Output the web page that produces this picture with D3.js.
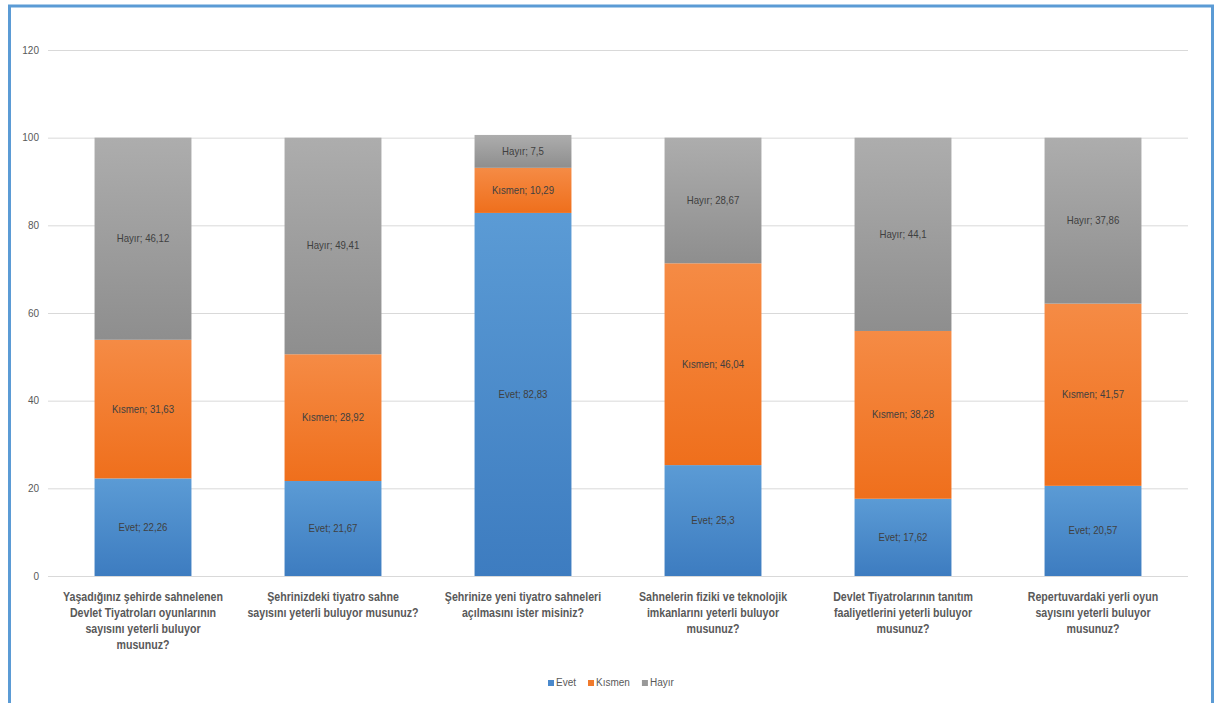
<!DOCTYPE html>
<html><head><meta charset="utf-8">
<script src="https://cdn.jsdelivr.net/npm/d3@7"></script>
<style>
html,body{margin:0;padding:0;background:#fff;overflow:hidden;}
svg{display:block;}
text{font-family:"Liberation Sans Narrow","Liberation Sans",Arial,sans-serif;}
</style></head>
<body>
<svg id="c" width="1217" height="703"></svg>
<script>
const categories = [
  ["Yaşadığınız şehirde sahnelenen","Devlet Tiyatroları oyunlarının","sayısını yeterli buluyor","musunuz?"],
  ["Şehrinizdeki tiyatro sahne","sayısını yeterli buluyor musunuz?"],
  ["Şehrinize yeni tiyatro sahneleri","açılmasını ister misiniz?"],
  ["Sahnelerin fiziki ve teknolojik","imkanlarını yeterli buluyor","musunuz?"],
  ["Devlet Tiyatrolarının tanıtım","faaliyetlerini yeterli buluyor","musunuz?"],
  ["Repertuvardaki yerli oyun","sayısını yeterli buluyor","musunuz?"]
];
const seriesNames = ["Evet","Kısmen","Hayır"];
const evet   = [22.26, 21.67, 82.83, 25.3, 17.62, 20.57];
const kismen = [31.63, 28.92, 10.29, 46.04, 38.28, 41.57];
const hayir  = [46.12, 49.41, 7.5, 28.67, 44.1, 37.86];
const yTicks = [0,20,40,60,80,100,120];

(function(){
const svg = d3.select("#c");
svg.append("rect").attr("x",9.5).attr("y",6).attr("width",1203).attr("height",720)
  .attr("fill","none").attr("stroke","#5b9bd5").attr("stroke-width",3);

const pL=48, pR=1188, pT=50, pB=576;
const x = d3.scaleBand().domain(d3.range(categories.length)).range([pL,pR]).paddingInner(0.49).paddingOuter(0.245);
const y = d3.scaleLinear().domain([0,120]).range([pB,pT]);

const defs = svg.append("defs");
const grads = [["#5b9bd5","#3d7cc0"],["#f58b45","#ef6f1c"],["#adadad","#8e8e8e"]];
grads.forEach((g,i)=>{
  const lg = defs.append("linearGradient").attr("id","g"+i).attr("x1",0).attr("y1",0).attr("x2",0).attr("y2",1);
  lg.append("stop").attr("offset","0%").attr("stop-color",g[0]);
  lg.append("stop").attr("offset","100%").attr("stop-color",g[1]);
});

svg.append("g").selectAll("line").data(yTicks).join("line")
  .attr("x1",pL).attr("x2",pR).attr("y1",d=>y(d)+0.5).attr("y2",d=>y(d)+0.5)
  .attr("stroke","#d9d9d9").attr("stroke-width",1);
svg.append("g").selectAll("text").data(yTicks).join("text")
  .attr("x",39).attr("y",d=>y(d)+3.5).attr("text-anchor","end")
  .attr("font-size",10).attr("fill","#595959").text(d=>d);

const data = categories.map((c,i)=>({i, Evet:evet[i], "Kısmen":kismen[i], "Hayır":hayir[i]}));
const stack = d3.stack().keys(seriesNames)(data);
const fmt = v => String(v).replace(".",",");

stack.forEach((s,si)=>{
  const g = svg.append("g");
  g.selectAll("rect").data(s).join("rect")
    .attr("x",d=>x(d.data.i)).attr("width",x.bandwidth())
    .attr("y",d=>y(d[1])).attr("height",d=>y(d[0])-y(d[1]))
    .attr("fill","url(#g"+si+")");
  g.selectAll("text").data(s).join("text")
    .attr("transform",d=>`translate(${x(d.data.i)+x.bandwidth()/2},${(y(d[0])+y(d[1]))/2+3.5}) scale(0.92,1)`)
    .attr("text-anchor","middle").attr("font-size",10.5).attr("fill","#404040")
    .text(d=>s.key+"; "+fmt(d.data[s.key]));
});

const cl = svg.append("g");
categories.forEach((lines,i)=>{
  const t = cl.append("text").attr("text-anchor","middle").attr("font-size",12.5)
    .attr("font-weight","bold").attr("fill","#595959")
    .attr("transform",`translate(${x(i)+x.bandwidth()/2},0) scale(0.85,1)`);
  lines.forEach((ln,j)=>{
    t.append("tspan").attr("x",0).attr("y",601+j*16).text(ln);
  });
});

const lgItems = [{n:"Evet",c:"#4a89cc"},{n:"Kısmen",c:"#f07a2c"},{n:"Hayır",c:"#999"}];
const lg = svg.append("g");
let lx = 548;
lgItems.forEach(it=>{
  lg.append("rect").attr("x",lx).attr("y",680).attr("width",6).attr("height",6).attr("fill",it.c);
  const t = lg.append("text").attr("x",lx+8).attr("y",686).attr("font-size",10).attr("fill","#595959").text(it.n);
  lx += 8 + t.node().getComputedTextLength() + 12;
});
})();
</script>
</body></html>
